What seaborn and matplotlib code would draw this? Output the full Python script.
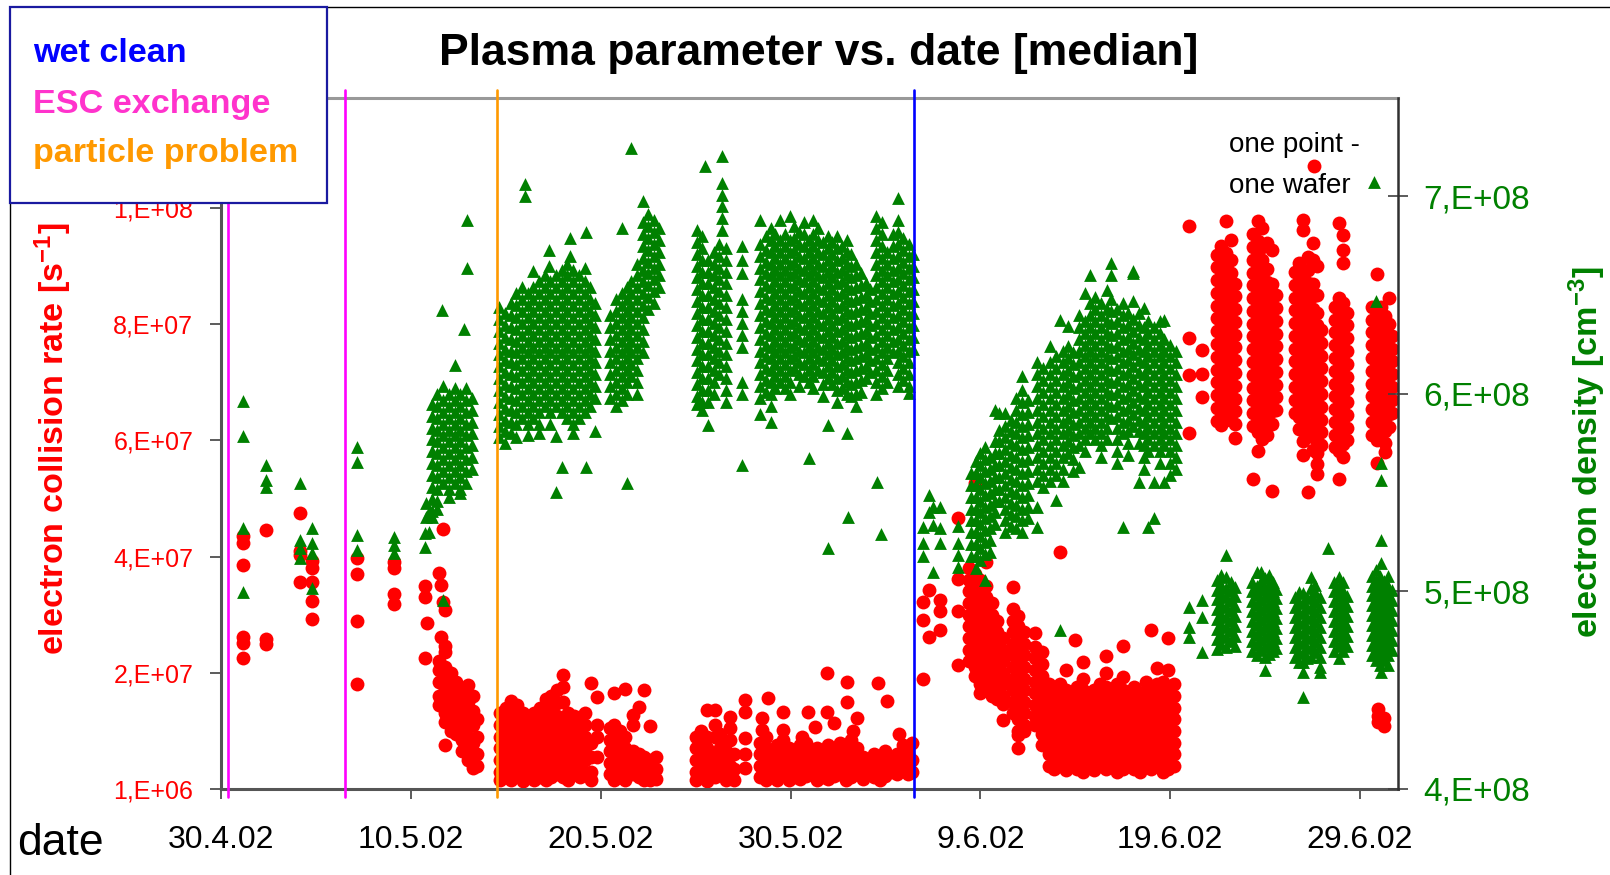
import pandas as pd
import matplotlib
matplotlib.use("Agg")
import matplotlib.pyplot as plt
from matplotlib import font_manager
from matplotlib.patches import Rectangle
import seaborn as sns

# ---------------------------------------------------------------------------
# Wafer medians, grouped by measurement time (days after 30.4.02).
# Collision rate in 1e6 s^-1, electron density in 1e6 cm^-3.
# ---------------------------------------------------------------------------
START = pd.Timestamp("2002-04-30")

rate_april_may = [
    (1.17, [44.6, 43.3, 39.6, 27.2, 26.2, 23.5]),
    (2.37, [45.5, 26.8, 26.0]),
    (4.15, [48.5, 42.0, 41.2, 36.6]),
    (4.8, [40.2, 39.0, 36.6, 33.4, 30.3]),
    (7.17, [40.7, 38.0, 30.0, 19.0]),
    (9.09, [40.0, 39.0, 34.6, 32.8]),
    (10.73, [36.0, 34.0, 23.5]),
    (10.87, [29.5]),
    (11.48, [38.1]),
    (11.58, [36.1, 27.2]),
    (11.68, [45.7, 33.2]),
    (11.78, [31.8, 25.7]),
    (11.5, [23.0, 21.5, 19.5, 17.0, 15.5]),
    (11.8, [24.5, 22.0, 20.0, 18.0, 16.0, 14.0, 12.5, 8.5]),
    (12.1, [21.0, 19.0, 17.0, 15.0, 13.0, 11.0]),
    (12.4, [19.5, 18.0, 16.0, 14.0, 12.0, 10.5]),
    (12.7, [17.5, 15.5, 13.5, 11.5, 9.5, 7.5]),
    (13.0, [18.9, 16.0, 14.0, 12.0, 10.0, 8.0, 6.0]),
    (13.3, [17.0, 14.5, 12.0, 9.0, 6.5, 4.7]),
    (13.5, [13.0, 10.0, 7.0, 5.0]),
]

rate_may = [
    (14.7, [14.0, 12.0, 10.0, 8.0, 6.0, 4.0, 2.5]),
    (15.0, [15.0, 13.0, 11.0, 9.0, 7.0, 5.0, 3.0]),
    (15.3, [16.2, 14.5, 12.5, 10.5, 8.5, 6.5, 4.5, 2.5]),
    (15.6, [15.5, 13.5, 11.5, 9.5, 7.5, 5.5, 3.5]),
    (15.9, [14.0, 12.0, 10.0, 8.0, 6.0, 4.0, 2.4]),
    (16.2, [13.5, 11.5, 9.5, 7.5, 5.5, 3.5]),
    (16.5, [14.0, 12.5, 10.5, 8.5, 6.5, 4.5, 2.6]),
    (16.8, [15.0, 13.0, 11.0, 9.0, 7.0, 5.0, 3.0]),
    (17.1, [16.5, 14.0, 12.0, 10.0, 8.0, 6.0, 4.0, 2.5]),
    (17.4, [17.0, 15.0, 13.0, 11.0, 9.0, 7.0, 5.0, 3.0]),
    (17.7, [18.0, 15.8, 13.5, 11.5, 9.5, 7.5, 5.5, 3.5]),
    (18.0, [20.6, 18.5, 16.0, 13.0, 11.0, 9.0, 7.0, 5.0, 3.0]),
    (18.3, [14.0, 12.0, 10.0, 8.0, 6.0, 4.0, 2.5]),
    (18.6, [13.5, 11.5, 9.5, 7.5, 5.5, 3.5]),
    (18.9, [13.4, 11.0, 9.0, 7.0, 5.0, 3.0]),
    (19.2, [14.0, 12.0, 10.0, 8.0, 6.0, 4.0]),
    (19.5, [19.2, 9.0, 6.5, 4.0, 2.6]),
    (19.8, [16.8, 12.0, 10.0, 6.5]),
    (20.5, [11.5, 9.5, 7.5, 5.5, 3.5]),
    (20.7, [17.5, 12.0, 10.0, 8.0, 6.0, 4.0, 2.5]),
    (21.0, [11.0, 9.0, 7.0, 5.0, 3.0]),
    (21.3, [18.3, 10.0, 8.0, 6.0, 4.0, 2.5]),
    (21.7, [13.7, 12.0, 7.5, 5.5, 3.5]),
    (22.0, [15.1, 7.0, 5.0, 3.0]),
    (22.3, [18.0, 6.5, 4.5, 2.5]),
    (22.6, [11.9, 6.0, 4.0, 2.6]),
    (22.9, [6.5, 4.5, 2.8]),
    (25.0, [10.0, 8.0, 6.0, 4.0, 2.6]),
    (25.3, [11.0, 9.0, 7.0, 5.0, 3.0]),
    (25.6, [14.6, 10.0, 8.0, 6.0, 4.0, 2.4]),
    (26.0, [14.6, 12.1, 10.0, 7.0, 5.0, 3.0]),
    (26.3, [10.5, 8.0, 5.5, 3.5]),
    (26.6, [9.0, 6.5, 4.0, 2.5]),
    (26.8, [13.4, 11.5, 9.5, 7.0, 5.0]),
    (27.0, [7.0, 4.5, 2.6]),
    (27.6, [16.4, 14.3, 9.7, 7.0, 4.6]),
    (28.4, [9.0, 7.0, 5.0, 3.0]),
    (28.5, [13.2, 11.1]),
    (28.7, [10.0, 8.0, 6.0, 4.0, 2.5]),
    (28.8, [16.6]),
    (29.0, [7.5, 5.5, 3.5]),
    (29.3, [8.5, 6.5, 4.5, 2.6]),
    (29.6, [14.3, 11.1, 9.5, 7.5, 5.5, 3.5]),
    (29.9, [8.0, 6.0, 4.0, 2.5]),
    (30.2, [7.0, 5.0, 3.0]),
    (30.5, [8.5, 6.5, 4.5, 2.7]),
    (30.6, [10.0]),
    (30.8, [9.0, 7.0, 5.0, 3.2]),
    (30.9, [14.3]),
    (31.1, [7.5, 5.5, 3.5]),
    (31.3, [11.6]),
    (31.4, [8.0, 6.0, 4.0, 2.5]),
    (31.7, [7.0, 5.0, 3.0]),
    (31.9, [21.0, 14.3]),
    (32.0, [8.5, 6.5, 4.5, 2.8]),
    (32.3, [12.3, 7.0, 5.0, 3.2]),
    (32.6, [9.0, 7.5, 5.5, 3.5]),
    (32.9, [8.0, 6.0, 4.0, 2.6]),
    (33.0, [19.5, 16.0]),
    (33.2, [9.5, 7.0, 5.0, 3.0]),
    (33.3, [11.0]),
    (33.5, [13.2, 8.0, 6.0, 4.0]),
    (33.8, [6.5, 4.5, 2.8]),
    (34.1, [5.5, 3.5]),
    (34.4, [7.0, 5.0, 3.0]),
    (34.6, [19.2]),
    (34.7, [6.0, 4.0, 2.6]),
    (35.0, [7.5, 5.0, 3.2]),
    (35.1, [16.2]),
    (35.3, [6.0, 4.0]),
    (35.6, [7.0, 5.5, 3.5]),
    (35.7, [10.4]),
    (35.9, [8.5, 6.5, 4.5]),
    (36.2, [7.0, 5.0, 3.5]),
    (36.4, [9.0, 6.0, 4.0]),
]

rate_june_a = [
    (37.0, [33.2, 30.1, 20.0]),
    (37.3, [35.2, 27.2]),
    (37.9, [33.6, 31.6, 28.3]),
    (38.8, [47.6, 37.1, 31.6, 22.3]),
    (39.4, [39.0, 37.0, 35.0, 33.0, 31.0, 29.0, 27.0, 25.0, 23.0]),
    (39.7, [53.6, 38.0, 36.0, 34.0, 32.0, 30.0, 28.0, 26.0, 24.0, 22.0, 20.5]),
    (40.0, [37.0, 35.0, 33.0, 31.0, 29.0, 27.0, 25.0, 23.0, 21.0, 19.0, 17.5]),
    (40.3, [40.1, 36.0, 34.0, 32.0, 30.0, 28.0, 26.0, 24.0, 22.0, 20.0, 18.0]),
    (40.6, [33.0, 31.0, 29.0, 27.0, 25.0, 23.0, 21.0, 19.0, 17.0]),
    (40.9, [30.0, 28.0, 26.0, 24.0, 22.0, 20.0, 18.0, 16.5]),
    (41.2, [27.0, 25.0, 23.0, 21.0, 19.0, 17.0, 15.7, 12.9]),
    (41.7, [35.7, 32.0, 30.0, 28.0, 26.0, 24.0, 22.0, 20.0, 18.0, 16.0, 14.0]),
    (42.0, [30.8, 29.0, 27.0, 25.0, 23.0, 21.0, 19.0, 17.0, 15.0, 13.0, 11.0, 10.3, 8.0]),
    (42.3, [28.0, 26.0, 24.0, 22.0, 20.0, 18.0, 16.0, 14.0, 12.0, 11.0]),
    (42.9, [27.8, 25.5, 23.5, 21.5, 19.5, 17.5, 15.5, 13.5, 12.0]),
    (43.25, [24.5, 22.5, 20.5, 18.5, 16.5, 14.5, 12.5, 10.5, 8.5]),
    (43.6, [19.0, 17.0, 15.0, 13.0, 11.0, 9.0, 7.0, 5.0]),
    (43.9, [18.0, 16.0, 14.0, 12.0, 10.0, 8.0, 6.0, 4.5]),
    (44.2, [41.8, 19.0, 17.0, 15.0, 13.0, 11.0, 9.0, 7.0, 5.0]),
    (44.5, [21.5, 18.0, 16.0, 14.0, 12.0, 10.0, 8.0, 6.0, 4.2]),
    (44.8, [17.0, 15.0, 13.0, 11.0, 9.0, 7.0, 5.0]),
    (45.0, [26.7]),
    (45.1, [18.5, 16.5, 14.5, 12.5, 10.5, 8.5, 6.5, 4.5]),
    (45.4, [22.9, 20.0, 18.0, 16.0, 14.0, 12.0, 10.0, 8.0, 6.0, 4.0]),
    (45.7, [17.5, 15.5, 13.5, 11.5, 9.5, 7.5, 5.5]),
    (46.0, [18.0, 16.0, 14.0, 12.0, 10.0, 8.0, 6.0, 4.2]),
    (46.3, [19.0, 17.0, 15.0, 13.0, 11.0, 9.0, 7.0, 5.0]),
    (46.6, [23.9, 21.0, 18.5, 16.5, 14.5, 12.5, 10.5, 8.5, 6.5, 4.5]),
    (46.9, [17.0, 15.0, 13.0, 11.0, 9.0, 7.0, 5.0]),
    (47.2, [19.0, 17.5, 15.5, 13.5, 11.5, 9.5, 7.5, 5.5, 4.0]),
    (47.5, [25.7, 20.3, 18.0, 16.0, 14.0, 12.0, 10.0, 8.0, 6.0, 4.5]),
    (47.8, [17.0, 15.0, 13.0, 11.0, 9.0, 7.0, 5.0]),
    (48.1, [18.5, 16.5, 14.5, 12.5, 10.5, 8.5, 6.5, 4.5]),
    (48.4, [17.5, 15.5, 13.5, 11.5, 9.5, 7.5, 5.5, 4.0]),
    (48.7, [19.5, 17.0, 15.0, 13.0, 11.0, 9.0, 7.0, 5.0]),
    (49.0, [28.3, 18.0, 16.0, 14.0, 12.0, 10.0, 8.0, 6.0, 4.5]),
    (49.3, [21.9, 19.0, 17.0, 15.0, 13.0, 11.0, 9.0, 7.0, 5.0]),
    (49.6, [19.5, 17.5, 15.5, 13.5, 11.5, 9.5, 7.5, 5.5, 4.0]),
    (49.9, [27.0, 21.4, 18.5, 16.5, 14.5, 12.5, 10.5, 8.5, 6.5, 4.5]),
    (50.2, [19.0, 17.0, 15.0, 13.0, 11.0, 9.0, 7.0, 5.0]),
]

rate_june_b = [
    (50.97, [98.0, 78.6, 72.3, 62.2]),
    (51.67, [76.6, 72.5, 68.4]),
    (52.45, [93.0, 90.8, 88.6, 86.4, 84.2, 82.0, 79.8, 77.6, 75.4, 73.2, 71.0, 68.8, 66.6, 64.4]),
    (52.7, [94.5, 92.3, 90.1, 87.9, 85.7, 83.5, 81.3, 79.1, 76.9, 74.7, 72.5, 70.3, 68.1,
            65.9, 63.7]),
    (52.95, [98.7, 93.2, 91.0, 88.8, 86.6, 84.4, 82.2, 80.0, 77.8, 75.6, 73.4, 71.2, 69.0,
             66.8, 64.6]),
    (53.2, [95.5, 92.1, 89.9, 87.7, 85.5, 83.3, 81.1, 78.9, 76.7, 74.5, 72.3, 70.1, 67.9, 65.7]),
    (53.4, [88.0, 85.8, 83.6, 81.4, 79.2, 77.0, 74.8, 72.6, 70.4, 68.2, 66.0, 63.8, 61.4]),
    (54.35, [96.5, 94.3, 92.1, 89.9, 87.7, 85.5, 83.3, 81.1, 78.9, 76.7, 74.5, 72.3, 70.1,
             67.9, 65.7, 63.5, 54.3]),
    (54.6, [98.7, 95.4, 93.2, 91.0, 88.8, 86.6, 84.4, 82.2, 80.0, 77.8, 75.6, 73.4, 71.2,
            69.0, 66.8, 64.6, 62.4, 59.1]),
    (54.85, [97.5, 94.3, 92.1, 89.9, 87.7, 85.5, 83.3, 81.1, 78.9, 76.7, 74.5, 72.3, 70.1,
             67.9, 65.7, 63.5, 61.3]),
    (55.1, [95.0, 90.5, 88.3, 86.1, 83.9, 81.7, 79.5, 77.3, 75.1, 72.9, 70.7, 68.5, 66.3,
            64.1, 61.9]),
    (55.35, [93.8, 88.0, 85.8, 83.6, 81.4, 79.2, 77.0, 74.8, 72.6, 70.4, 68.2, 66.0, 63.8, 52.3]),
    (55.55, [86.0, 83.8, 81.6, 79.4, 77.2, 75.0, 72.8, 70.6, 68.4, 66.2]),
    (56.55, [90.0, 87.8, 85.6, 83.4, 81.2, 79.0, 76.8, 74.6, 72.4, 70.2, 68.0, 65.8]),
    (56.8, [91.5, 89.3, 87.1, 84.9, 82.7, 80.5, 78.3, 76.1, 73.9, 71.7, 69.5, 67.3, 65.1, 63.0]),
    (57.0, [99.0, 97.3, 89.5, 87.3, 85.1, 82.9, 80.7, 78.5, 76.3, 74.1, 71.9, 69.7, 67.5,
            65.3, 63.1, 60.9, 58.5]),
    (57.25, [92.5, 90.3, 88.1, 85.9, 83.7, 81.5, 79.3, 77.1, 74.9, 72.7, 70.5, 68.3, 66.1,
             63.9, 61.7, 52.2]),
    (57.5, [95.0, 92.0, 88.0, 85.8, 83.6, 81.4, 79.2, 77.0, 74.8, 72.6, 70.4, 68.2, 66.0,
            63.8, 61.6, 59.4]),
    (57.6, [108.3]),
    (57.75, [91.0, 86.0, 83.0, 80.8, 78.6, 76.4, 74.2, 72.0, 69.8, 67.6, 65.4, 63.2, 61.0,
             58.8, 57.0, 55.3]),
    (57.95, [80.0, 77.8, 75.6, 73.4, 71.2, 69.0, 66.8, 64.6, 62.4, 60.2]),
    (58.7, [84.0, 81.8, 79.6, 77.4, 75.2, 73.0, 70.8, 68.6, 66.4, 64.2, 62.0, 59.8]),
    (58.9, [98.5, 85.5, 83.3, 81.1, 78.9, 76.7, 74.5, 72.3, 70.1, 67.9, 65.7, 63.5, 61.3,
            59.1, 54.3]),
    (59.1, [96.4, 93.8, 91.5, 84.6, 82.4, 80.2, 78.0, 75.8, 73.6, 71.4, 69.2, 67.0, 64.8,
            62.6, 60.4, 58.2]),
    (59.3, [83.0, 80.8, 78.6, 76.4, 74.2, 72.0, 69.8, 67.6, 65.4, 63.2, 61.0]),
    (60.65, [84.0, 81.8, 79.6, 77.4, 75.2, 73.0, 70.8, 68.6, 66.4, 64.2, 62.0]),
    (60.9, [89.7, 83.0, 80.8, 78.6, 76.4, 74.2, 72.0, 69.8, 67.6, 65.4, 63.2, 61.0, 57.1]),
    (60.95, [14.8, 13.6, 12.5]),
    (61.1, [84.0, 81.8, 79.6, 77.4, 75.2, 73.0, 70.8, 68.6, 66.4, 64.2, 62.0]),
    (61.25, [13.2, 11.8]),
    (61.3, [82.5, 80.3, 78.1, 75.9, 73.7, 71.5, 69.3, 67.1, 64.9, 62.7, 60.5, 59.0]),
    (61.5, [85.5, 81.0, 78.8, 76.6, 74.4, 72.2, 70.0, 67.8, 65.6, 63.4]),
    (61.7, [79.0, 76.8, 74.6, 72.4, 70.2, 68.0, 65.8]),
]

density_april_may = [
    (1.17, [596.2, 578.5, 532.0, 499.8]),
    (2.37, [564.1, 556.5, 553.1]),
    (4.15, [554.8, 526.1, 522.0, 516.8]),
    (4.8, [532.0, 524.4, 519.3, 501.6]),
    (7.17, [573.4, 565.8, 528.6, 521.0]),
    (9.09, [527.7, 523.5, 519.3]),
    (10.73, [529.5, 522.7]),
    (10.8, [537.9, 545.0]),
    (10.95, [540.0, 530.0]),
    (11.1, [595.0, 589.0, 583.0, 577.0, 571.0, 565.0, 559.0, 553.0, 547.0, 541.0, 537.9]),
    (11.4, [600.0, 594.0, 588.0, 582.0, 576.0, 570.0, 564.0, 558.0, 552.0, 546.0, 542.0]),
    (11.64, [642.3]),
    (11.7, [603.8, 597.0, 591.0, 585.0, 579.0, 573.0, 567.0, 561.0, 555.0, 495.6]),
    (12.0, [600.0, 594.0, 588.0, 582.0, 576.0, 570.0, 564.0, 558.0, 552.0, 548.0]),
    (12.3, [603.0, 597.0, 591.0, 585.0, 579.0, 573.0, 567.0, 561.0, 555.0]),
    (12.35, [614.8]),
    (12.6, [600.0, 594.0, 588.0, 582.0, 576.0, 570.0, 564.0, 558.0, 552.0, 549.7]),
    (12.8, [633.1]),
    (12.9, [603.0, 597.0, 591.0, 585.0, 579.0, 573.0, 567.0, 561.0, 555.0]),
    (12.98, [688.3, 663.8]),
    (13.2, [598.0, 592.0, 586.0, 580.0, 574.0, 568.0, 562.0]),
]

density_may = [
    (14.65, [644, 638, 632, 626, 620, 614, 608, 602, 596, 590, 584, 578]),
    (14.95, [641, 635, 629, 623, 617, 611, 605, 599, 593, 587, 581, 575]),
    (15.25, [646, 640, 634, 628, 622, 616, 610, 604, 598, 592, 586, 580]),
    (15.55, [651, 645, 639, 633, 627, 621, 615, 609, 603, 597, 591, 585, 578]),
    (15.85, [654, 648, 642, 636, 630, 624, 618, 612, 606, 600, 594, 588]),
    (16.03, [706.1, 700.2]),
    (16.15, [651, 645, 639, 633, 627, 621, 615, 609, 603, 597, 591, 585, 579]),
    (16.45, [662.1, 654, 648, 642, 636, 630, 624, 618, 612, 606, 600, 594, 588]),
    (16.75, [657, 651, 645, 639, 633, 627, 621, 615, 609, 603, 597, 591, 585, 580]),
    (17.05, [660, 654, 648, 642, 636, 630, 624, 618, 612, 606, 600, 594]),
    (17.3, [673.1, 665.0]),
    (17.35, [657, 651, 645, 639, 633, 627, 621, 615, 609, 603, 597, 591, 585]),
    (17.65, [660, 654, 648, 642, 636, 630, 624, 618, 612, 606, 600, 594, 578.5, 550.6]),
    (17.95, [663, 657, 651, 645, 639, 633, 627, 621, 615, 609, 603, 597, 591, 563.2]),
    (18.25, [666, 660, 654, 648, 642, 636, 630, 624, 618, 612, 606, 600, 594, 588]),
    (18.4, [679.0, 669.7]),
    (18.55, [663, 657, 651, 645, 639, 633, 627, 621, 615, 609, 603, 597, 591, 585, 580]),
    (18.85, [660, 654, 648, 642, 636, 630, 624, 618, 612, 606, 600, 594, 588]),
    (19.15, [664, 657, 651, 645, 639, 633, 627, 621, 615, 609, 603, 597, 591]),
    (19.24, [681.9, 563.2]),
    (19.45, [654, 648, 642, 636, 630, 624, 618, 612, 606, 600, 594]),
    (19.7, [646, 640, 634, 628, 622, 616, 610, 604, 598, 581]),
    (20.5, [640, 634, 628, 622, 616, 610, 604, 598]),
    (20.8, [648, 642, 636, 630, 624, 618, 612, 606, 600, 594]),
    (21.14, [684.1, 651, 645, 639, 633, 627, 621, 615, 609, 603, 597]),
    (21.4, [654, 648, 642, 636, 630, 624, 618, 612, 606, 600, 555.1]),
    (21.6, [724.7, 657, 651, 645, 639, 633, 627, 621, 615, 609]),
    (21.9, [666, 660, 654, 648, 642, 636, 630, 624, 618, 612, 606, 600]),
    (22.22, [697.6, 687, 681, 675, 669, 663, 657, 651, 645, 639, 633, 627, 621]),
    (22.5, [691, 685, 679, 673, 667, 661, 655, 649, 643]),
    (22.8, [688, 682, 676, 670, 664, 658, 652, 646]),
    (23.05, [684, 678, 672, 666, 660, 654]),
    (25.06, [683, 677, 671, 665, 659, 653, 647, 641, 635, 629, 623, 617, 611, 605, 599, 595]),
    (25.35, [679.9, 674, 668, 662, 656, 650, 644, 638, 632, 626, 620, 614, 608, 602, 596, 592]),
    (25.5, [715.4]),
    (25.65, [668, 662, 656, 650, 644, 638, 632, 626, 620, 614, 608, 602, 596, 584.4]),
    (25.95, [672, 666, 660, 654, 648, 642, 636, 630, 624, 618, 612, 606, 600]),
    (26.25, [676, 670, 664, 658, 652, 646, 640, 634, 628, 622, 616, 610]),
    (26.41, [720.4, 706.9, 700.5, 695.1, 689, 683]),
    (26.6, [674, 668, 662, 656, 650, 644, 638, 632, 626, 620, 614, 608, 602, 596]),
    (27.45, [674.8, 668, 661, 648, 642, 636, 630, 624, 606, 600, 564.1]),
    (28.4, [688.3, 676, 670, 664, 658, 652, 646, 640, 634, 628, 622, 616, 610, 604, 598, 590]),
    (28.7, [679.9, 673, 667, 661, 655, 649, 643, 637, 631, 625, 619, 613, 607, 601]),
    (28.95, [684, 678, 672, 666, 660, 654, 648, 642, 636, 630, 624, 618, 612, 606, 600, 594,
             586]),
    (29.2, [681, 675, 669, 663, 657, 651, 645, 639, 633, 627, 621, 615, 609, 603]),
    (29.45, [688, 678, 672, 666, 660, 654, 648, 642, 636, 630, 624, 618, 612, 606]),
    (29.7, [681, 675, 669, 663, 657, 651, 645, 639, 633, 627, 621, 615, 609, 603]),
    (29.95, [690, 678, 672, 666, 660, 654, 648, 642, 636, 630, 624, 618, 612, 606, 600]),
    (30.2, [685, 679, 673, 667, 661, 655, 649, 643, 637, 631, 625, 619, 613]),
    (30.45, [682, 676, 670, 664, 658, 652, 646, 640, 634, 628, 622, 616, 610, 604]),
    (30.7, [687, 681, 675, 669, 663, 657, 651, 645, 639, 633, 627, 621, 615, 609]),
    (30.95, [678, 672, 666, 660, 654, 648, 642, 636, 630, 624, 618, 612, 606, 567.5]),
    (31.2, [688, 681, 675, 669, 663, 657, 651, 645, 639, 633, 627, 621, 615, 609, 603]),
    (31.45, [684, 678, 672, 666, 660, 654, 648, 642, 636, 630, 624, 618, 612]),
    (31.7, [677, 671, 665, 659, 653, 647, 641, 635, 629, 623, 617, 611, 605, 599]),
    (31.95, [680, 674, 668, 662, 656, 650, 644, 638, 632, 626, 620, 614, 608, 584.4, 521.9]),
    (32.2, [677, 671, 665, 659, 653, 647, 641, 635, 629, 623, 617, 611, 605]),
    (32.45, [680, 674, 668, 662, 656, 650, 644, 638, 632, 626, 620, 614, 608, 602, 596]),
    (32.7, [675, 669, 663, 657, 651, 645, 639, 633, 627, 621, 615, 609, 603]),
    (32.95, [678, 672, 666, 660, 654, 648, 642, 636, 630, 624, 618, 612, 606, 600, 580.2]),
    (33.05, [537.9]),
    (33.2, [671, 665, 659, 653, 647, 641, 635, 629, 623, 617, 611, 605, 599]),
    (33.45, [666, 660, 654, 648, 642, 636, 630, 624, 618, 612, 606, 600, 594]),
    (33.7, [661, 655, 649, 643, 637, 631, 625, 619, 613, 607, 601]),
    (33.95, [656, 650, 644, 638, 632, 626, 620, 614, 608]),
    (34.2, [653, 647, 641, 635, 629, 623, 617, 611]),
    (34.5, [690, 684, 678, 672, 666, 660, 654, 648, 642, 636, 630, 624, 618, 612, 606, 600]),
    (34.57, [555.6]),
    (34.76, [529.2]),
    (34.8, [687, 681, 675, 669, 663, 657, 651, 645, 639, 633, 627, 621, 615, 609, 603]),
    (35.1, [672, 666, 660, 654, 648, 642, 636, 630, 624, 618, 612, 606]),
    (35.4, [681, 675, 669, 663, 657, 651, 645, 639, 633, 627, 621]),
    (35.68, [699.3, 688, 682, 676, 670, 664, 658, 652, 646, 640, 634, 628, 622, 616, 610, 604]),
    (35.95, [679, 673, 667, 661, 655, 649, 643, 637, 631, 625, 619, 613, 607]),
    (36.25, [676, 670, 664, 658, 652, 646, 640, 634, 628, 622, 616, 610, 604, 600.6]),
    (36.45, [671, 665, 659, 653, 647, 641, 635, 629, 623]),
]

density_june_a = [
    (37.0, [532.8, 524.4, 518.0]),
    (37.27, [549.0, 540.0]),
    (37.5, [543.0, 533.7, 510.0]),
    (37.85, [543.0, 532.0, 524.4]),
    (38.8, [533.0, 524.4, 518.5, 512.5]),
    (39.5, [560, 554, 548, 542, 536, 530, 524, 518]),
    (39.75, [566, 560, 554, 548, 542, 536, 530, 524, 518, 512]),
    (40.0, [570, 564, 558, 552, 546, 540, 534, 528, 522, 516]),
    (40.25, [573.4, 567, 561, 555, 549, 543, 537, 531, 525, 519, 505.8]),
    (40.5, [568, 562, 556, 550, 544, 538, 532, 526, 520]),
    (40.75, [592, 576, 570, 564, 558, 552, 546, 540, 534]),
    (41.0, [590.3, 582, 576, 570, 564, 558, 552, 546]),
    (41.3, [590.3, 584, 578, 572, 566, 560, 554, 548, 542, 536, 530]),
    (41.6, [587, 581, 575, 569, 563, 557, 551, 545, 539, 533]),
    (41.9, [598, 592, 586, 580, 574, 568, 562, 556, 550, 544, 538, 532]),
    (42.2, [608.9, 602.1, 596, 590, 584, 578, 572, 566, 560, 554, 548, 542, 536, 530]),
    (42.5, [597, 591, 585, 579, 573, 567, 561, 555, 549, 543, 537]),
    (42.97, [616, 610, 604, 598, 592, 586, 580, 574, 568, 562, 556, 543, 532.8]),
    (43.3, [613, 607, 601, 595, 589, 583, 577, 571, 565, 559, 553]),
    (43.67, [624.1, 616, 610, 604, 598, 592, 586, 580, 574, 568, 562, 556]),
    (44.0, [619, 613, 607, 601, 595, 589, 583, 577, 571, 565, 559, 546.3]),
    (44.2, [637.6, 480.4]),
    (44.35, [622, 616, 610, 604, 598, 592, 586, 580, 574, 568, 562, 556]),
    (44.6, [634.2, 624.1, 618, 612, 606, 600, 594, 588, 582, 576, 570]),
    (44.9, [621, 615, 609, 603, 597, 591, 585, 579, 573, 567, 561]),
    (45.2, [640, 634, 628, 622, 616, 610, 604, 598, 592, 586, 580, 574, 563.2]),
    (45.5, [651.2, 637, 631, 625, 619, 613, 607, 601, 595, 589, 583, 577, 571]),
    (45.76, [660.4, 646, 640, 634, 628, 622, 616, 610, 604, 598, 592, 586, 580]),
    (46.05, [649, 643, 637, 631, 625, 619, 613, 607, 601, 595, 589, 583, 577]),
    (46.35, [646, 640, 634, 628, 622, 616, 610, 604, 598, 592, 586, 580, 574, 568]),
    (46.65, [652.8, 643, 637, 631, 625, 619, 613, 607, 601, 595, 589, 583, 577]),
    (46.9, [666.4, 660.4, 648, 642, 636, 630, 624, 618, 612, 606, 600, 594, 588]),
    (47.2, [643, 637, 631, 625, 619, 613, 607, 601, 595, 589, 583, 577, 571, 565]),
    (47.5, [646, 640, 634, 628, 622, 616, 610, 604, 598, 592, 586, 580, 532.8]),
    (47.8, [641, 635, 629, 623, 617, 611, 605, 599, 593, 587, 581, 575, 569]),
    (48.05, [662.1, 661.3, 646.9, 638, 632, 626, 620, 614, 608, 602, 596, 590, 584]),
    (48.35, [641, 635, 629, 623, 617, 611, 605, 599, 593, 587, 581, 575, 555.6]),
    (48.6, [643.6, 634, 628, 622, 616, 610, 604, 598, 592, 586, 580, 574, 568, 562]),
    (48.85, [637, 631, 625, 619, 613, 607, 601, 595, 589, 583, 577, 571, 532.8]),
    (49.15, [634, 628, 622, 616, 610, 604, 598, 592, 586, 580, 574, 555.6, 537.1]),
    (49.45, [637, 631, 625, 619, 613, 607, 601, 595, 589, 583, 577, 571, 565]),
    (49.7, [637.6, 628, 622, 616, 610, 604, 598, 592, 586, 580, 574, 555.6]),
    (50.0, [625, 619, 613, 607, 601, 595, 589, 583, 577, 571, 565, 559]),
    (50.3, [622, 616, 610, 604, 598, 592, 586, 580, 574, 568, 562]),
]

density_june_b = [
    (50.97, [492.2, 482.1, 477.0]),
    (51.67, [495.6, 487.2, 469.4]),
    (52.45, [506, 501, 496, 491, 486, 481, 476, 471]),
    (52.7, [508.5, 503.5, 498.5, 493.5, 488.5, 483.5, 478.5, 473.5]),
    (52.95, [518.5, 507.5, 502, 497, 492, 487, 482, 477, 472]),
    (53.2, [505, 500, 495, 490, 485, 480, 475]),
    (53.4, [502.5, 497.5, 492.5, 487.5, 482.5, 477.5, 472.5]),
    (54.3, [505, 500, 495, 490, 485, 480, 475, 470]),
    (54.55, [510, 503, 498, 493, 488, 483, 478, 473, 468]),
    (54.8, [510, 505.5, 500.5, 495.5, 490.5, 485.5, 480.5, 475.5, 470.5]),
    (55.0, [507, 502, 497, 492, 487, 482, 477, 472, 467, 460.1]),
    (55.2, [508.3, 503.5, 498.5, 493.5, 488.5, 483.5, 478.5, 473.5, 468.5]),
    (55.4, [505, 500, 495, 490, 485, 480, 475, 470]),
    (55.55, [501.5, 496.5, 491.5, 486.5, 481.5, 476.5, 471.5]),
    (56.55, [497, 492, 487, 482, 477, 472, 467]),
    (56.8, [499.5, 494.5, 489.5, 484.5, 479.5, 474.5, 469.5, 464.5]),
    (57.0, [499, 494, 489, 484, 479, 474, 469, 464.4, 459.3, 446.6]),
    (57.2, [496.5, 491.5, 486.5, 481.5, 476.5, 471.5, 466.5]),
    (57.4, [507.5, 502, 497, 492, 487, 482, 477, 472, 467]),
    (57.65, [503.2, 499.5, 494.5, 489.5, 484.5, 479.5, 474.5, 469.5]),
    (57.9, [497, 492, 487, 482, 477, 472, 467, 462, 459.3]),
    (58.3, [521.9]),
    (58.65, [505, 500, 495, 490, 485, 480, 475, 470]),
    (58.9, [507.5, 502.5, 497.5, 492.5, 487.5, 482.5, 477.5, 472.5, 466.1]),
    (59.1, [505, 500, 495, 490, 485, 480, 475, 470]),
    (59.3, [497.5, 492.5, 487.5, 482.5, 477.5, 472.5]),
    (60.65, [508, 503, 498, 493, 488, 483, 478, 473, 468]),
    (60.75, [707.4]),
    (60.85, [510.9, 505.5, 500.5, 495.5, 490.5, 485.5, 480.5, 475.5, 470.5, 465.5, 646.9]),
    (61.05, [508, 503, 498, 493, 488, 483, 478, 473, 468, 463]),
    (61.1, [565.0, 556.5, 526.1, 514.3, 459.3]),
    (61.25, [505.5, 500.5, 495.5, 490.5, 485.5, 480.5, 475.5, 470.5, 465.5]),
    (61.45, [508, 503, 498, 493, 488, 483, 478, 473, 468, 463]),
    (61.7, [500.5, 495.5, 490.5, 485.5, 480.5, 475.5, 470.5]),
]

# Maintenance events (days after 30.4.02)
event_days = [0.35, 6.52, 14.53, 36.5]
event_kinds = ["ESC exchange", "ESC exchange", "particle problem", "wet clean"]
event_line_colors = {"wet clean": "#0000FF", "ESC exchange": "#FF00FF",
                     "particle problem": "#FF9900"}
event_text_colors = {"wet clean": "#0000FF", "ESC exchange": "#FF33CC",
                     "particle problem": "#FF9900"}
legend_order = ["wet clean", "ESC exchange", "particle problem"]

tick_dates = ["2002-04-30", "2002-05-10", "2002-05-20", "2002-05-30",
              "2002-06-09", "2002-06-19", "2002-06-29"]
tick_labels = ["30.4.02", "10.5.02", "20.5.02", "30.5.02", "9.6.02", "19.6.02", "29.6.02"]
rate_ticks = [1e6, 2.1e7, 4.1e7, 6.1e7, 8.1e7, 1.01e8]
rate_tick_labels = ["1,E+06", "2,E+07", "4,E+07", "6,E+07", "8,E+07", "1,E+08"]
density_ticks = [4e8, 5e8, 6e8, 7e8]
density_tick_labels = ["4,E+08", "5,E+08", "6,E+08", "7,E+08"]

RED = "#FF0000"
GREEN = "#008000"


def to_frame(groups, name):
    days, values = [], []
    for day, vals in groups:
        for v in vals:
            days.append(day)
            values.append(v)
    df = pd.DataFrame({"day": days, name: [v * 1e6 for v in values]})
    df["date"] = START + pd.to_timedelta(df["day"], unit="D")
    return df


rate_df = to_frame(rate_april_may + rate_may + rate_june_a + rate_june_b, "rate")
density_df = to_frame(density_april_may + density_may + density_june_a + density_june_b,
                      "density")

# ---------------------------------------------------------------------------
sns.set_theme(style="white")
plt.rcParams["font.family"] = ["Liberation Sans", "DejaVu Sans"]
plt.rcParams["mathtext.default"] = "regular"

installed = {f.name for f in font_manager.fontManager.ttflist}
HAS_NARROW = "Liberation Sans Narrow" in installed


def narrow(size, weight="normal"):
    if HAS_NARROW:
        return dict(family=["Liberation Sans Narrow", "DejaVu Sans"], fontsize=size,
                    fontweight=weight)
    return dict(family=["Liberation Sans", "DejaVu Sans"], fontsize=size * 0.82,
                fontweight=weight)


W, H = 1610, 875
fig = plt.figure(figsize=(W / 100, H / 100), dpi=100)
fig.patch.set_facecolor("white")

# outer chart frame
fig.add_artist(Rectangle((10 / W, -0.1), 1.2, (H - 7) / H + 0.1, transform=fig.transFigure,
                         fill=False, edgecolor="black", linewidth=1.0, zorder=0.5))

ax_left, ax_right, ax_top, ax_bottom = 221, 1398, 97.7, 789
ax = fig.add_axes([ax_left / W, 1 - ax_bottom / H, (ax_right - ax_left) / W,
                   (ax_bottom - ax_top) / H])
ax.set_facecolor("white")

sns.scatterplot(data=rate_df, x="date", y="rate", ax=ax, color=RED, marker="o",
                s=100, linewidth=0, legend=False)
ax2 = ax.twinx()
sns.scatterplot(data=density_df, x="date", y="density", ax=ax2, color=GREEN, marker="^",
                s=85, linewidth=0, legend=False)

x0 = START
x1 = START + pd.Timedelta(days=62)
ax.set_xlim(x0, x1)
ax.set_ylim(1e6, 1.2e8)
ax2.set_ylim(4e8, 7.5e8)

ax.set_xticks(pd.to_datetime(tick_dates))
ax.set_xticklabels(tick_labels)
ax.set_yticks(rate_ticks)
ax.set_yticklabels(rate_tick_labels)
ax2.set_yticks(density_ticks)
ax2.set_yticklabels(density_tick_labels)
for a in (ax, ax2):
    a.set_xlabel("")
    a.set_ylabel("")
    a.grid(False)

ax.tick_params(axis="x", direction="out", length=7.2, width=1.2, color="#404040",
               pad=19, labelsize=23, labelcolor="black", bottom=True)
ax.tick_params(axis="y", direction="out", length=8, width=1.2, color="#404040",
               pad=12, labelcolor=RED, left=True)
for lab in ax.get_yticklabels():
    lab.set(**narrow(22))
ax2.tick_params(axis="y", direction="inout", length=14.4, width=1.2, color="#404040",
                pad=11, labelsize=24, labelcolor=GREEN, right=True)

for name in ("left", "bottom"):
    ax.spines[name].set_color("#555555")
    ax.spines[name].set_linewidth(2.2)
ax.spines["top"].set_color("#999999")
ax.spines["top"].set_linewidth(2.2)
ax.spines["right"].set_visible(False)
for name in ("left", "bottom", "top"):
    ax2.spines[name].set_visible(False)
ax2.spines["right"].set_color("#303030")
ax2.spines["right"].set_linewidth(1.8)

# maintenance event markers
for day, kind in zip(event_days, event_kinds):
    ax2.axvline(START + pd.Timedelta(days=day), ymin=-0.0116, ymax=1.011,
                color=event_line_colors[kind], linewidth=1.9, clip_on=False, zorder=6)

# titles and axis labels
fig.text(819 / W, 1 - 65 / H, "Plasma parameter vs. date [median]", ha="center",
         va="baseline", fontsize=32, fontweight="bold", color="black")
fig.text(53 / W, 1 - 439 / H, "electron collision rate [s$^{-1}$]", rotation=90,
         ha="center", va="center", color=RED, **narrow(30, "bold"))
fig.text(1587 / W, 1 - 452 / H, "electron density [cm$^{-3}$]", rotation=90,
         ha="center", va="center", color=GREEN, **narrow(30, "bold"))
fig.text(17 / W, 1 - 855 / H, "date", ha="left", va="baseline", fontsize=32,
         color="black")
fig.text(1229 / W, 1 - 152 / H, "one point -", ha="left", va="baseline", fontsize=20,
         color="black", zorder=12)
fig.text(1229 / W, 1 - 193 / H, "one wafer", ha="left", va="baseline", fontsize=20,
         color="black", zorder=12)

# event key box
fig.add_artist(Rectangle((10 / W, 1 - 203 / H), 317 / W, 196 / H, transform=fig.transFigure,
                         facecolor="white", edgecolor="#1A1AA0", linewidth=1.6, zorder=10))
for kind, base in zip(legend_order, [61.6, 113, 162]):
    fig.text(33 / W, 1 - base / H, kind, ha="left", va="baseline",
             color=event_text_colors[kind], zorder=11, **narrow(30, "bold"))

fig.savefig("out.png", dpi=100, facecolor="white")
